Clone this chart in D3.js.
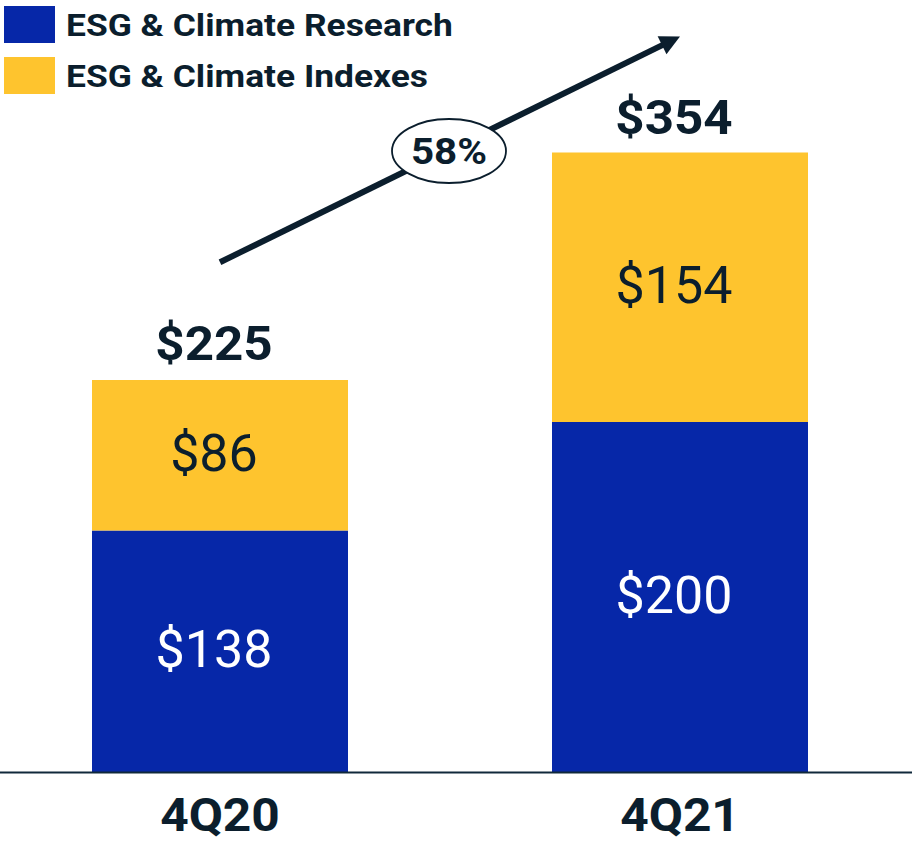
<!DOCTYPE html>
<html>
<head>
<meta charset="utf-8">
<script src="https://cdn.jsdelivr.net/npm/d3@7/dist/d3.min.js"></script>
<style>
  html, body { margin: 0; padding: 0; background: #fff; }
  svg { display: block; font-family: Roboto, "Noto Sans", sans-serif; }
</style>
</head>
<body>
<svg id="chart" width="912" height="846"></svg>
<script>
// Quarterly ESG & Climate revenue ($M)
const categories = ["4Q20", "4Q21"];
const research = [138, 200];
const indexes = [86, 154];
const totals = [225, 354];
const growthLabel = "58%";
const seriesNames = ["ESG & Climate Research", "ESG & Climate Indexes"];

const colors = { research: "#0627A8", indexes: "#FEC42E", ink: "#0B1E2D" };

const svg = d3.select("#chart");
const W = 912;
const baseY = 772;
const labelShift = -6; // value labels sit slightly left of bar centre

const x = d3.scaleBand().domain(categories).range([92, 808]).paddingInner(0.4435).paddingOuter(0);
const y = d3.scaleLinear().domain([0, 400]).range([baseY, 72]);

const rows = categories.map((c, i) => ({ cat: c, research: research[i], indexes: indexes[i], total: totals[i] }));
const stack = d3.stack().keys(["research", "indexes"])(rows);

// helper: bold text widened a little horizontally around its anchor
function wideText(sel, sx) {
  return sel.attr("transform", function () {
    const tx = +this.getAttribute("data-x"), ty = +this.getAttribute("data-y");
    return `translate(${tx},${ty}) scale(${sx},1)`;
  });
}

// stacked bars
const layers = svg.append("g").selectAll("g").data(stack).join("g")
  .attr("fill", d => colors[d.key]);
layers.selectAll("rect").data(d => d).join("rect")
  .attr("x", d => x(d.data.cat))
  .attr("width", x.bandwidth())
  .attr("y", d => y(d[1]))
  .attr("height", d => y(d[0]) - y(d[1]));

// segment value labels
layers.selectAll("text").data(d => d.map(v => Object.assign({ key: d.key }, v))).join("text")
  .attr("x", d => x(d.data.cat) + x.bandwidth() / 2 + labelShift)
  .attr("y", d => (y(d[0]) + y(d[1])) / 2 + 16)
  .attr("text-anchor", "middle")
  .attr("font-size", 52)
  .attr("font-weight", 400)
  .attr("fill", d => d.key === "research" ? "#ffffff" : colors.ink)
  .text(d => "$" + d.data[d.key]);

// totals above bars
svg.append("g").selectAll("text").data(rows).join("text")
  .attr("data-x", d => x(d.cat) + x.bandwidth() / 2 + labelShift)
  .attr("data-y", d => y(d.total) - 18.5)
  .attr("text-anchor", "middle")
  .attr("font-size", 48)
  .attr("font-weight", 700)
  .attr("fill", colors.ink)
  .text(d => "$" + d.total)
  .call(wideText, 1.065);

// baseline
svg.append("line")
  .attr("x1", 0).attr("x2", W)
  .attr("y1", baseY + 0.5).attr("y2", baseY + 0.5)
  .attr("stroke", "#10293B").attr("stroke-width", 2);

// category axis
const xAxis = svg.append("g")
  .attr("transform", `translate(0,${baseY})`)
  .call(d3.axisBottom(x).tickSize(0).tickPadding(0));
xAxis.select(".domain").remove();
xAxis.selectAll("text")
  .attr("dy", null)
  .attr("y", null)
  .attr("data-x", 0)
  .attr("data-y", 59)
  .attr("font-family", "Roboto, sans-serif")
  .attr("font-size", 46)
  .attr("font-weight", 700)
  .attr("fill", colors.ink)
  .call(wideText, 1.08);

// legend
const legend = svg.append("g");
const legendItems = [
  { name: seriesNames[0], color: colors.research, top: 6 },
  { name: seriesNames[1], color: colors.indexes, top: 57 }
];
legendItems.forEach(it => {
  legend.append("rect")
    .attr("x", 4).attr("y", it.top).attr("width", 51).attr("height", 37)
    .attr("fill", it.color);
  legend.append("text")
    .attr("data-x", 66).attr("data-y", it.top + 30)
    .attr("font-size", 32)
    .attr("font-weight", 700)
    .attr("fill", colors.ink)
    .text(it.name)
    .call(wideText, 1.106);
});

// growth arrow between the two totals
const arrowStart = [x(categories[0]) + x.bandwidth() / 2, y(totals[0]) - 116];
const arrowEnd = [x(categories[1]) + x.bandwidth() / 2, y(totals[1]) - 116];
const ang = Math.atan2(arrowEnd[1] - arrowStart[1], arrowEnd[0] - arrowStart[0]);
const headLen = 20, headHalf = 10;
const backX = arrowEnd[0] - headLen * Math.cos(ang);
const backY = arrowEnd[1] - headLen * Math.sin(ang);
svg.append("line")
  .attr("x1", arrowStart[0]).attr("y1", arrowStart[1])
  .attr("x2", backX + 2 * Math.cos(ang)).attr("y2", backY + 2 * Math.sin(ang))
  .attr("stroke", colors.ink).attr("stroke-width", 6);
svg.append("path")
  .attr("d", d3.line()([
    arrowEnd,
    [backX + headHalf * Math.sin(ang), backY - headHalf * Math.cos(ang)],
    [backX - headHalf * Math.sin(ang), backY + headHalf * Math.cos(ang)]
  ]) + "Z")
  .attr("fill", colors.ink);

// growth badge
const badge = svg.append("g").attr("transform", "translate(449,151)");
badge.append("ellipse")
  .attr("rx", 57).attr("ry", 32)
  .attr("fill", "#fff")
  .attr("stroke", colors.ink).attr("stroke-width", 1.8);
badge.append("text")
  .attr("data-x", 0).attr("data-y", 13)
  .attr("text-anchor", "middle")
  .attr("font-size", 37)
  .attr("font-weight", 700)
  .attr("fill", colors.ink)
  .text(growthLabel)
  .call(wideText, 1.09);
</script>
</body>
</html>
